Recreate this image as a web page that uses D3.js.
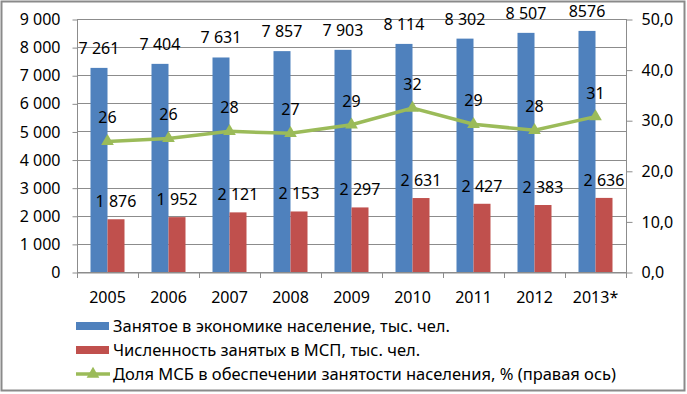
<!DOCTYPE html>
<html>
<head>
<meta charset="utf-8">
<script src="https://cdn.jsdelivr.net/npm/d3@7"></script>
<style>
  body { margin: 0; background: #fff; }
  text { font-family: "Noto Sans", "Liberation Sans", sans-serif; fill: #000; }
</style>
</head>
<body>
<svg id="chart" width="687" height="394"></svg>
<script>
let years = ["2005", "2006", "2007", "2008", "2009", "2010", "2011", "2012", "2013*"];
let employed = [7261, 7404, 7631, 7857, 7903, 8114, 8302, 8507, 8576];
let employedLabels = ["7 261", "7 404", "7 631", "7 857", "7 903", "8 114", "8 302", "8 507", "8576"];
let smeEmployed = [1876, 1952, 2121, 2153, 2297, 2631, 2427, 2383, 2636];
let smeLabels = ["1 876", "1 952", "2 121", "2 153", "2 297", "2 631", "2 427", "2 383", "2 636"];
let smeShare = [25.8, 26.4, 27.8, 27.4, 29.1, 32.4, 29.2, 28.0, 30.7];
let shareLabels = ["26", "26", "28", "27", "29", "32", "29", "28", "31"];
let leftTicks = [0, 1000, 2000, 3000, 4000, 5000, 6000, 7000, 8000, 9000];
let rightTicks = [0, 10, 20, 30, 40, 50];
let legendNames = [
  "Занятое в экономике население, тыс. чел.",
  "Численность занятых в МСП, тыс. чел.",
  "Доля МСБ в обеспечении занятости населения, % (правая ось)"
];

let blue = "#4f81bd", red = "#c0504d", green = "#9bbb59", grid = "#8c8c8c";

let svg = d3.select("#chart");

// outer frame
svg.append("rect")
   .attr("x", 1.5).attr("y", 1.5)
   .attr("width", 683).attr("height", 389)
   .attr("fill", "none")
   .attr("stroke", "#8a8a8a")
   .attr("stroke-width", 2);

let x = d3.scaleBand().domain(years).range([77, 626]).padding(0);
let yL = d3.scaleLinear().domain([0, 9000]).range([272, 19]);
let yR = d3.scaleLinear().domain([0, 50]).range([272, 19]);
let barW = 17;

// gridlines
svg.append("g")
   .selectAll("line")
   .data(leftTicks)
   .enter()
   .append("line")
   .attr("x1", 77).attr("x2", 626)
   .attr("y1", d => Math.round(yL(d)) + 0.5)
   .attr("y2", d => Math.round(yL(d)) + 0.5)
   .attr("stroke", grid);

// left axis
let fmt = d => d === 0 ? "0" : d3.format(",")(d).replace(",", " ");
let leftAxis = svg.append("g")
   .attr("transform", "translate(77.5,0.5)")
   .call(d3.axisLeft(yL).tickValues(leftTicks).tickSize(5).tickPadding(12).tickFormat(fmt));

// right axis
let rightAxis = svg.append("g")
   .attr("transform", "translate(626.5,0.5)")
   .call(d3.axisRight(yR).tickValues(rightTicks).tickSize(6).tickPadding(9)
        .tickFormat(d => d3.format(".1f")(d).replace(".", ",")));

// bottom axis
let bottomAxis = svg.append("g")
   .attr("transform", "translate(0,272.5)")
   .call(d3.axisBottom(x).tickSize(0).tickPadding(19));

// category boundary ticks
svg.append("g")
   .selectAll("line")
   .data(years.concat(["end"]))
   .enter()
   .append("line")
   .attr("x1", (d, i) => Math.round(77 + i * x.bandwidth()) + 0.5)
   .attr("x2", (d, i) => Math.round(77 + i * x.bandwidth()) + 0.5)
   .attr("y1", 272).attr("y2", 278)
   .attr("stroke", grid);

for (let ax of [leftAxis, rightAxis, bottomAxis]) {
  ax.select(".domain").attr("stroke", grid);
  ax.selectAll(".tick line").attr("stroke", grid);
  ax.selectAll("text").attr("font-size", 16).attr("fill", "#000")
    .style("font-family", "'Noto Sans', sans-serif");
}
leftAxis.select(".domain").attr("d", "M0,18.5V272");
rightAxis.select(".domain").attr("d", "M0,18.5V272");

// bars
svg.append("g")
   .selectAll("rect")
   .data(employed)
   .enter()
   .append("rect")
   .attr("x", (d, i) => x(years[i]) + x.bandwidth() / 2 - barW)
   .attr("y", d => yL(d))
   .attr("width", barW)
   .attr("height", d => yL(0) - yL(d))
   .attr("fill", blue);

svg.append("g")
   .selectAll("rect")
   .data(smeEmployed)
   .enter()
   .append("rect")
   .attr("x", (d, i) => x(years[i]) + x.bandwidth() / 2)
   .attr("y", d => yL(d))
   .attr("width", barW)
   .attr("height", d => yL(0) - yL(d))
   .attr("fill", red);

// bar labels
svg.append("g")
   .selectAll("text")
   .data(employed)
   .enter()
   .append("text")
   .attr("x", (d, i) => x(years[i]) + x.bandwidth() / 2 - barW / 2)
   .attr("y", d => yL(d) - 14)
   .attr("text-anchor", "middle")
   .attr("font-size", 16)
   .text((d, i) => employedLabels[i]);

svg.append("g")
   .selectAll("text")
   .data(smeEmployed)
   .enter()
   .append("text")
   .attr("x", (d, i) => x(years[i]) + x.bandwidth() / 2 + barW / 2)
   .attr("y", d => yL(d) - 12)
   .attr("text-anchor", "middle")
   .attr("font-size", 16)
   .text((d, i) => smeLabels[i]);

// share line
let line = d3.line()
   .x((d, i) => x(years[i]) + x.bandwidth() / 2)
   .y(d => yR(d));

svg.append("path")
   .datum(smeShare)
   .attr("d", line)
   .attr("fill", "none")
   .attr("stroke", green)
   .attr("stroke-width", 3.5);

let tri = d3.symbol().type(d3.symbolTriangle).size(70);
svg.append("g")
   .selectAll("path")
   .data(smeShare)
   .enter()
   .append("path")
   .attr("d", tri)
   .attr("transform", (d, i) => `translate(${x(years[i]) + x.bandwidth() / 2},${yR(d)})`)
   .attr("fill", green);

svg.append("g")
   .selectAll("text")
   .data(smeShare)
   .enter()
   .append("text")
   .attr("x", (d, i) => x(years[i]) + x.bandwidth() / 2)
   .attr("y", d => yR(d) - 18)
   .attr("text-anchor", "middle")
   .attr("font-size", 16)
   .text((d, i) => shareLabels[i]);

// legend
let legend = svg.append("g");
let rowY = [326, 350, 374];
legend.append("rect").attr("x", 76).attr("y", rowY[0] - 4).attr("width", 33).attr("height", 8).attr("fill", blue);
legend.append("rect").attr("x", 76).attr("y", rowY[1] - 4).attr("width", 33).attr("height", 8).attr("fill", red);
legend.append("line").attr("x1", 76).attr("x2", 110).attr("y1", rowY[2]).attr("y2", rowY[2])
      .attr("stroke", green).attr("stroke-width", 3.5);
legend.append("path").attr("d", tri).attr("transform", `translate(93,${rowY[2]})`).attr("fill", green);

legend.selectAll("text")
   .data(legendNames)
   .enter()
   .append("text")
   .attr("x", 113)
   .attr("y", (d, i) => rowY[i])
   .attr("dy", "0.35em")
   .attr("font-size", 16.5)
   .text(d => d);
</script>
</body>
</html>
